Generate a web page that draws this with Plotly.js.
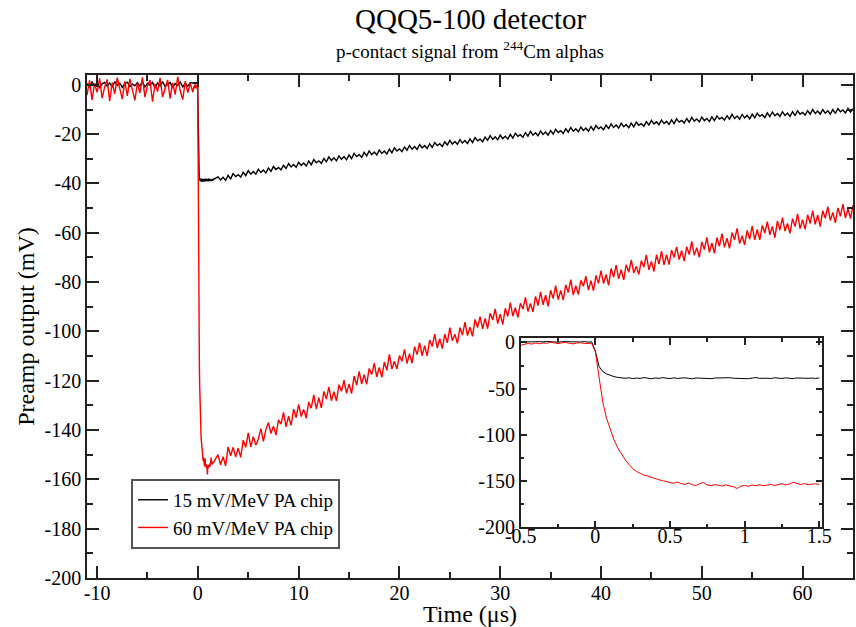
<!DOCTYPE html>
<html><head><meta charset="utf-8">
<script src="https://cdn.plot.ly/plotly-3.0.1.min.js"></script>
<style>html,body{margin:0;padding:0;background:#fff;} #chart{width:856px;height:627px;}</style>
</head><body><div id="chart"></div>
<script>
// ---- series names ----
const seriesNames = ['15 mV/MeV PA chip', '60 mV/MeV PA chip'];

// ---- pre-trigger samples (time start -11 µs, step 0.25 µs) ----
const preStart = -11.0, preStep = 0.25;
const blackPre = [0.6,-0.8,1.2,-0.3,0.9,-1.1,0.4,1.0,-0.6,0.8,-0.9,1.3,-0.2,0.7,-1.0,0.5,1.1,-0.7,0.3,-0.4,0.9,
  -0.5,1.2,-0.9,0.6,-0.2,1.0,-1.2,0.8,-0.4,1.3,-0.7,0.2,0.9,-1.0,0.5,-0.3,1.1,-0.8,0.7,-0.5,0.9];
const redPre = [-4.2,1.8,-6.1,0.5,-3.0,2.6,-5.4,-0.8,2.2,-6.6,0.9,-3.7,2.9,-2.1,-5.8,1.4,-4.5,2.4,-1.6,-6.3,0.7,
  -3.3,3.1,-5.0,-0.2,1.9,-6.8,0.4,-2.7,2.8,-4.9,-1.1,2.0,-5.6,0.8,-3.9,3.3,-2.4,-6.0,1.5,-3.1,0.6];

// ---- fine samples around the rising edge (start -0.5 µs, step 0.025 µs) ----
const fineStart = -0.5, fineStep = 0.025;
const blackFine = [0.8,0.5,1.0,0.6,0.9,0.4,0.7,1.1,0.6,0.8,0.3,0.9,0.7,1.0,0.5,0.8,0.6,1.0,0.4,0.7,
  -9,-26,-31.5,-34,-35.6,-36.9,-37.8,-38.4,-38.7,
  -38.2,-39.1,-38.5,-38.9,-38.0,-38.6,-39.3,-38.4,-38.8,-38.1,-38.7,-39.0,-38.3,-38.9,-38.5,-38.2,-38.8,-39.2,-38.4,-38.6,
  -38.0,-38.7,-39.1,-38.5,-38.3,-38.9,-38.4,-38.1,-38.7,-38.9,-38.3,-38.6,-39.2,-38.5,-38.0,-38.8,-38.4,-38.7,-39.0,-38.2,
  -38.6,-38.9,-38.3,-38.5,-39.1,-38.4,-38.7,-38.2,-38.8,-38.5,-38.9,-38.4];
const redFine = [-3.0,-2.2,-1.0,-1.8,-0.6,-1.4,-0.3,-0.9,0.2,-0.5,-1.2,-0.4,0.1,-0.8,-1.5,-0.7,-0.2,-1.1,-0.6,-0.9,
  -10,-40,-65,-82,-95,-105.5,-114,-121,-127,
  -132,-136.5,-139.5,-141.5,-143.5,-144.5,-146,-147.5,-148.5,-149.5,-150.5,-151,
  -152.5,-151.0,-152.8,-153.6,-152.2,-153.9,-154.8,-152.6,-151.5,-154.2,-155.0,-153.8,-154.6,-155.3,-154.1,-154.9,-156.2,-158.0,-155.4,-154.7,
  -155.6,-154.2,-155.1,-153.9,-155.0,-154.4,-153.6,-154.8,-153.9,-152.8,-154.1,-153.2,-151.2,-152.6,-153.8,-152.7,-154.0,-153.3,-152.9,-153.5];

// ---- decay tail samples (start 2 µs, step 0.25 µs) ----
const postStart = 2.0, postStep = 0.25;
const blackPost = [
  -37.3,-38.6,-37.5,-38.7, -36.7,-38.1,-36.0,-37.2, -36.4,-37.4,-35.5,-36.8, -34.8,-36.2,-35.1,-36.2,
  -34.2,-35.5,-34.5,-35.7, -33.7,-35.1,-33.1,-34.3, -33.5,-34.5,-32.6,-33.9, -31.9,-33.3,-32.3,-33.4,
  -31.4,-32.7,-31.7,-32.9, -30.9,-32.4,-30.3,-31.6, -30.8,-31.8,-29.9,-31.2, -29.2,-30.7,-29.6,-30.8,
  -28.8,-30.2,-29.1,-30.4, -28.4,-29.9,-27.8,-29.1, -28.3,-29.4,-27.4,-28.8, -26.8,-28.3,-27.2,-28.4,
  -26.4,-27.8,-26.8,-28.0, -26.1,-27.6,-25.5,-26.8, -26.0,-27.1,-25.2,-26.5, -24.6,-26.1,-25.0,-26.2,
  -24.2,-25.6,-24.6,-25.8, -23.9,-25.4,-23.4,-24.6, -23.9,-25.0,-23.1,-24.4, -22.5,-24.0,-23.0,-24.1,
  -22.2,-23.6,-22.6,-23.8, -21.9,-23.4,-21.4,-22.7, -22.0,-23.1,-21.2,-22.5, -20.6,-22.1,-21.1,-22.3,
  -20.4,-21.8,-20.8,-22.0, -20.1,-21.6,-19.6,-20.9, -20.2,-21.3,-19.4,-20.8, -18.9,-20.4,-19.4,-20.6,
  -18.7,-20.1,-19.1,-20.4, -18.5,-20.0,-18.0,-19.3, -18.6,-19.7,-17.8,-19.2, -17.3,-18.8,-17.8,-19.0,
  -17.1,-18.5,-17.5,-18.8, -16.9,-18.4,-16.5,-17.8, -17.1,-18.2,-16.3,-17.7, -15.8,-17.3,-16.3,-17.5,
  -15.6,-17.0,-16.1,-17.4, -15.5,-17.0,-15.1,-16.4, -15.7,-16.8,-14.9,-16.3, -14.4,-15.9,-15.0,-16.2,
  -14.3,-15.7,-14.8,-16.1, -14.2,-15.7,-13.8,-15.1, -14.4,-15.5,-13.7,-15.1, -13.2,-14.7,-13.8,-15.0,
  -13.1,-14.5,-13.6,-14.9, -13.0,-14.5,-12.6,-13.9, -13.2,-14.3,-12.5,-13.9, -12.0,-13.6,-12.6,-13.9,
  -12.0,-13.4,-12.4,-13.8, -11.9,-13.4,-11.5,-12.8, -12.1,-13.3,-11.4,-12.9, -11.0,-12.5,-11.6,-12.8,
  -10.9,-12.4,-11.4,-12.8, -10.9,-12.5,-10.5,-11.9, -11.2,-12.3,-10.5,-11.9, -10.0,-11.6,-10.6,-11.9,
  -10.0,-11.5,-10.5,-11.9, -10.0,-11.6,-9.6,-10.9, -10.2,-11.4,-9.5,-11.0, -9.7];
const redPost = [
  -150.0,-154.1,-150.8,-154.5, -146.8,-150.4,-147.0,-151.0, -147.3,-151.1,-144.1,-147.0, -141.1,-146.8,-142.7,-146.1,
  -143.7,-139.4,-144.6,-139.7, -136.9,-141.4,-138.4,-142.0, -135.9,-137.6,-132.8,-138.7, -134.4,-138.1,-131.5,-135.0,
  -129.6,-134.5,-131.6,-135.2, -128.6,-131.1,-125.7,-131.5, -126.9,-131.0,-124.3,-127.4, -122.5,-128.1,-124.4,-128.2,
  -121.6,-124.3,-119.8,-125.1, -121.3,-125.2,-118.1,-121.8, -116.2,-121.3,-117.5,-121.4, -115.0,-117.5,-112.9,-118.4,
  -114.6,-118.6,-112.4,-115.8, -109.3,-115.3,-112.1,-115.2, -109.8,-112.1,-107.3,-113.0, -109.0,-112.9,-106.2,-109.4,
  -104.5,-109.9,-105.8,-109.9, -103.5,-106.1,-101.1,-106.7, -102.9,-107.0,-101.1,-104.6, -98.5,-103.8,-101.1,-104.8,
  -98.4,-101.5,-96.2,-101.7, -98.3,-102.0,-95.1,-98.4, -94.0,-99.0,-94.7,-98.9, -92.6,-95.4,-90.9,-96.8,
  -93.0,-97.2,-90.6,-93.9, -88.3,-93.8,-90.4,-94.3, -88.6,-90.9,-86.2,-91.9, -88.7,-92.1,-85.8,-89.5,
  -84.0,-89.2,-85.3,-89.8, -83.3,-86.7,-81.4,-87.1, -83.4,-87.3,-81.1,-84.2, -79.0,-85.3,-81.4,-85.0,
  -79.3,-81.7,-77.6,-83.2, -79.4,-83.5,-77.3,-80.5, -75.3,-80.6,-76.9,-81.3, -74.5,-78.0,-73.1,-78.7,
  -75.0,-79.1,-72.9,-76.0, -71.0,-76.3,-73.6,-76.9, -71.3,-73.9,-68.9,-75.0, -71.6,-75.7,-68.9,-72.7,
  -67.4,-73.0,-68.9,-72.9, -67.0,-70.0,-65.7,-70.9, -67.2,-71.5,-65.6,-68.8, -63.5,-69.1,-66.0,-69.9,
  -63.7,-66.8,-61.9,-67.9, -64.1,-68.3,-61.9,-65.5, -60.3,-65.9,-62.2,-66.3, -59.9,-62.9,-58.2,-64.4,
  -61.2,-64.9,-59.0,-62.6, -57.3,-62.9,-58.6,-62.9, -57.0,-60.1,-55.5,-60.8, -57.4,-62.0,-55.2,-58.9,
  -53.8,-59.3,-56.2,-60.2, -54.2,-57.5,-52.3,-58.3, -54.7,-58.6,-52.7,-56.2, -51.0,-56.6,-52.8,-57.5,
  -51.0,-54.1,-49.4,-55.0, -51.7,-56.0,-49.9,-53.3, -48.4,-54.0,-50.2,-54.2, -48.8];

// ---- tick labels ----
const mainXTicks = [-10,0,10,20,30,40,50,60];
const mainXText = ['-10','0','10','20','30','40','50','60'];
const mainYTicks = [0,-20,-40,-60,-80,-100,-120,-140,-160,-180,-200];
const mainYText = ['0','-20','-40','-60','-80','-100','-120','-140','-160','-180','-200'];
const insetXTicks = [-0.5,0,0.5,1,1.5];
const insetXText = ['-0.5','0','0.5','1','1.5'];
const insetYTicks = [0,-50,-100,-150,-200];
const insetYText = ['0','-50','-100','-150','-200'];

function times(start, step, n) {
  const out = [];
  for (let i = 0; i < n; i++) out.push(Math.round((start + i * step) * 1000) / 1000);
  return out;
}
const tPre = times(preStart, preStep, blackPre.length);
const tFine = times(fineStart, fineStep, blackFine.length);
const tPost = times(postStart, postStep, blackPost.length);

const F = 'Liberation Serif, Times New Roman, serif';
const AX = '#222';

const traces = [
  {x: tPre.concat(tFine, tPost), y: blackPre.concat(blackFine, blackPost), name: seriesNames[0],
   type: 'scatter', mode: 'lines', line: {color: '#000000', width: 1.4}, xaxis: 'x', yaxis: 'y'},
  {x: tPre.concat(tFine, tPost), y: redPre.concat(redFine, redPost), name: seriesNames[1],
   type: 'scatter', mode: 'lines', line: {color: '#ff0000', width: 1.4}, xaxis: 'x', yaxis: 'y'},
  {x: tFine, y: blackFine, name: seriesNames[0], showlegend: false,
   type: 'scatter', mode: 'lines', line: {color: '#000000', width: 1}, xaxis: 'x2', yaxis: 'y2'},
  {x: tFine, y: redFine, name: seriesNames[1], showlegend: false,
   type: 'scatter', mode: 'lines', line: {color: '#ff0000', width: 1}, xaxis: 'x2', yaxis: 'y2'}
];

function axis(extra) {
  return Object.assign({
    showline: true, linecolor: AX, linewidth: 1.5, mirror: 'ticks',
    ticks: 'inside', tickcolor: AX, tickwidth: 1.5,
    showgrid: false, zeroline: false, tickmode: 'array',
    tickfont: {family: F, size: 20, color: '#000'}
  }, extra);
}

const layout = {
  width: 856, height: 627,
  margin: {l: 87, r: 3, t: 75, b: 49},
  paper_bgcolor: '#ffffff', plot_bgcolor: '#ffffff',
  font: {family: F, color: '#000'},
  showlegend: true,
  xaxis: axis({range: [-11, 65], tickvals: mainXTicks, ticktext: mainXText, ticklen: 12, ticklabelstandoff: -4,
    minor: {tickmode: 'linear', tick0: 0, dtick: 5, ticklen: 6, ticks: 'inside', tickwidth: 1.5, tickcolor: AX},
    title: {text: 'Time (μs)', font: {family: F, size: 24, color: '#000'}, standoff: 0}}),
  yaxis: axis({range: [-200, 4], tickvals: mainYTicks, ticktext: mainYText, ticklen: 12,
    minor: {tickmode: 'linear', tick0: 0, dtick: 10, ticklen: 6, ticks: 'inside', tickwidth: 1.5, tickcolor: AX},
    title: {text: 'Preamp output (mV)', font: {family: F, size: 24, color: '#000'}, standoff: 3}}),
  xaxis2: axis({domain: [0.5662, 0.9599], anchor: 'y2', range: [-0.5, 1.52],
    tickvals: insetXTicks, ticktext: insetXText, ticklen: 7, ticklabelstandoff: -10,
    minor: {tickmode: 'linear', tick0: 0, dtick: 0.25, ticklen: 4, ticks: 'inside', tickwidth: 1.5, tickcolor: AX}}),
  yaxis2: axis({domain: [0.1008, 0.4765], anchor: 'x2', range: [-200, 4.5],
    tickvals: insetYTicks, ticktext: insetYText, ticklen: 7,
    minor: {tickmode: 'linear', tick0: 0, dtick: 25, ticklen: 4, ticks: 'inside', tickwidth: 1.5, tickcolor: AX}}),
  legend: {x: 0.0574, y: 0.197, xanchor: 'left', yanchor: 'top',
    bgcolor: '#ffffff', bordercolor: '#555', borderwidth: 2,
    font: {family: F, size: 19, color: '#000'}, tracegroupgap: 0},
  annotations: [
    {text: 'QQQ5-100 detector', xref: 'paper', yref: 'paper', x: 0.5, y: 1.1113,
     xanchor: 'center', yanchor: 'middle', showarrow: false, font: {family: F, size: 29, color: '#000'}},
    {text: 'p-contact signal from <sup>244</sup>Cm alphas', xref: 'paper', yref: 'paper', x: 0.5, y: 1.0497,
     xanchor: 'center', yanchor: 'middle', showarrow: false, font: {family: F, size: 19, color: '#000'}}
  ]
};

Plotly.newPlot('chart', traces, layout, {displayModeBar: false, responsive: false});
</script>
</body></html>
